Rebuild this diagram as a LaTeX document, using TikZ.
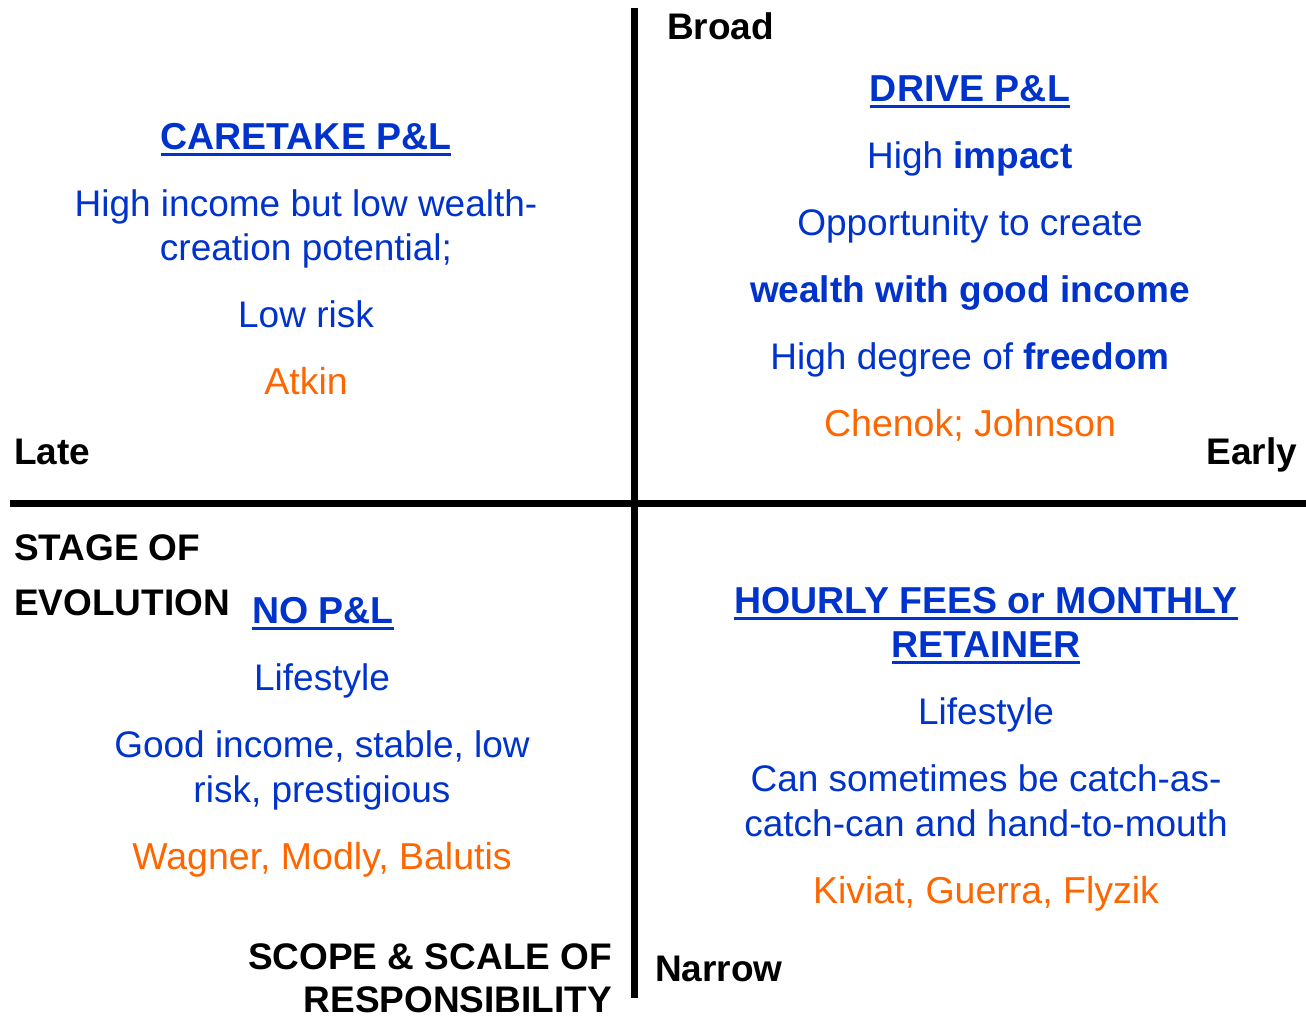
\documentclass[tikz,border=0pt]{standalone}
\usepackage{fontspec}
\setmainfont{Liberation Sans}
\definecolor{qblue}{HTML}{0033CC}
\definecolor{qorange}{HTML}{FF6600}
\begin{document}
\begin{tikzpicture}[x=1pt,y=-1pt,
  every node/.style={inner sep=0pt,outer sep=0pt,font=\fontsize{37}{44}\selectfont},
  txt/.style={anchor=base,text=qblue},
  ttl/.style={anchor=base,text=qblue,font=\fontsize{37.5}{44}\selectfont\bfseries},
  names/.style={anchor=base,text=qorange,font=\fontsize{37.5}{44}\selectfont},
  axlbl/.style={text=black,font=\fontsize{37}{44}\selectfont\bfseries},
  axis/.style={line width=7pt,black},
  uline/.style={line width=3pt,qblue}]
\useasboundingbox (0,0) rectangle (1306,1015);

% axes
\coordinate (vtop) at (634,8);
\coordinate (vbot) at (634,998);
\coordinate (hleft) at (10,503);
\coordinate (hright) at (1306,503);
\draw[axis] (vtop) -- (vbot);
\draw[axis] (hleft) -- (hright);

% axis labels
\node[axlbl,anchor=base west] (broad) at (667,39) {Broad};
\node[axlbl,anchor=base west] (narrow) at (655,981) {Narrow};
\node[axlbl,anchor=base west] (late) at (14,464) {Late};
\node[axlbl,anchor=base east] (early) at (1297,464) {Early};
\node[axlbl,anchor=base west] (stage1) at (14,560) {STAGE OF};
\node[axlbl,anchor=base west] (stage2) at (14,615) {EVOLUTION};
\node[axlbl,anchor=base east] (scope1) at (612,969) {SCOPE \& SCALE OF};
\node[axlbl,anchor=base east] (scope2) at (612,1012) {RESPONSIBILITY};

% upper left: caretake
\node[ttl] (care) at (306,149) {CARETAKE P\&L};
\draw[uline] ([yshift=-5pt]care.base west) -- ([yshift=-5pt]care.base east);
\node[txt] (care1) at (306,216) {High income but low wealth-};
\node[txt] (care2) at (306,260) {creation potential;};
\node[txt] (care3) at (306,327) {Low risk};
\node[names] (care4) at (306,394) {Atkin};

% upper right: drive
\node[ttl] (drive) at (970,101) {DRIVE P\&L};
\draw[uline] ([yshift=-5pt]drive.base west) -- ([yshift=-5pt]drive.base east);
\node[txt] (drive1) at (970,168) {High \textbf{impact}};
\node[txt] (drive2) at (970,235) {Opportunity to create};
\node[txt,font=\fontsize{37}{44}\selectfont\bfseries] (drive3) at (970,302) {wealth with good income};
\node[txt] (drive4) at (970,369) {High degree of \textbf{freedom}};
\node[names] (drive5) at (970,436) {Chenok; Johnson};

% lower left: no p&l
\node[ttl,anchor=base west] (nopl) at (252,623) {NO P\&L};
\draw[uline] ([yshift=-5pt]nopl.base west) -- ([yshift=-5pt]nopl.base east);
\node[txt] (nopl1) at (322,690) {Lifestyle};
\node[txt] (nopl2) at (322,757) {Good income, stable, low};
\node[txt] (nopl3) at (322,802) {risk, prestigious};
\node[names] (nopl4) at (322,869) {Wagner, Modly, Balutis};

% lower right: hourly fees
\node[ttl] (fees) at (986,613) {HOURLY FEES or MONTHLY};
\draw[uline] ([yshift=-5pt]fees.base west) -- ([yshift=-5pt]fees.base east);
\node[ttl] (ret) at (986,657) {RETAINER};
\draw[uline] ([yshift=-5pt]ret.base west) -- ([yshift=-5pt]ret.base east);
\node[txt] (fees1) at (986,724) {Lifestyle};
\node[txt] (fees2) at (986,791) {Can sometimes be catch-as-};
\node[txt] (fees3) at (986,836) {catch-can and hand-to-mouth};
\node[names] (fees4) at (986,903) {Kiviat, Guerra, Flyzik};
\end{tikzpicture}
\end{document}
